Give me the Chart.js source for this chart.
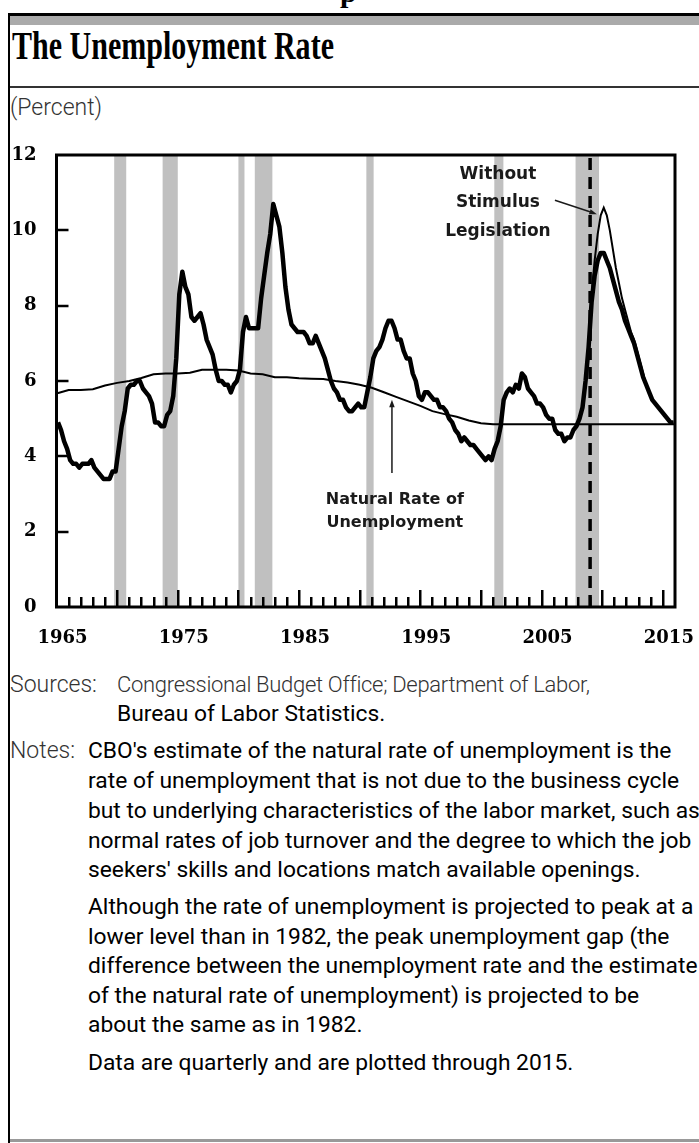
<!DOCTYPE html>
<html>
<head>
<meta charset="utf-8">
<title>The Unemployment Rate</title>
<script src="https://cdn.jsdelivr.net/npm/chart.js@4.4.1/dist/chart.umd.min.js"></script>
<style>
  html, body { margin: 0; padding: 0; background: #fff; }
  body { width: 699px; height: 1143px; position: relative; overflow: hidden; font-family: Roboto, "Liberation Sans", sans-serif; color: #000; }
  .abs { position: absolute; white-space: nowrap; }
  #cut { left: 340px; top: -23px; font: bold 30px "Liberation Serif", serif; line-height: 30px; }
  #frameL { left: 8px; top: 13px; width: 2px; height: 1130px; background: #000; }
  #frameT { left: 8px; top: 13px; width: 691px; height: 3px; background: #000; }
  #band { left: 10px; top: 16px; width: 689px; height: 9px; background: #aaa; }
  #title { left: 12px; top: 26px; font: bold 39px "Liberation Serif", serif; line-height: 39px; transform: scaleX(0.77); transform-origin: 0 0; }
  #rule { left: 10px; top: 86px; width: 689px; height: 2px; background: #333; }
  #unit { left: 10px; top: 95px; font-size: 23px; line-height: 26px; color: #333; font-weight: 300; }
  #chartBox { left: 0; top: 140px; width: 699px; height: 520px; }
  .row { font-size: 22.8px; line-height: 30px; }
  .light { color: #333; font-weight: 300; font-size: 23px; }
  .src { font-size: 22px; letter-spacing: -0.3px; }
  #bottom { left: 10px; top: 1139px; width: 689px; height: 3px; background: #999; }
</style>
</head>
<body>
<div class="abs" id="cut">p</div>
<div class="abs" id="frameL"></div>
<div class="abs" id="frameT"></div>
<div class="abs" id="band"></div>
<div class="abs" id="title">The Unemployment Rate</div>
<div class="abs" id="rule"></div>
<div class="abs" id="unit">(Percent)</div>
<div class="abs" id="chartBox"><canvas id="chart"></canvas></div>

<div class="abs row light" style="left:10px;top:670px">Sources:</div>
<div class="abs row light src" style="left:117px;top:670px">Congressional Budget Office; Department of Labor,</div>
<div class="abs row" style="left:117px;top:699px">Bureau of Labor Statistics.</div>
<div class="abs row light" style="left:10px;top:736px">Notes:</div>
<div class="abs row" style="left:88px;top:736px">CBO's estimate of the natural rate of unemployment is the</div>
<div class="abs row" style="left:88px;top:766px">rate of unemployment that is not due to the business cycle</div>
<div class="abs row" style="left:88px;top:796px">but to underlying characteristics of the labor market, such as</div>
<div class="abs row" style="left:88px;top:826px">normal rates of job turnover and the degree to which the job</div>
<div class="abs row" style="left:88px;top:855px">seekers' skills and locations match available openings.</div>
<div class="abs row" style="left:88px;top:892px">Although the rate of unemployment is projected to peak at a</div>
<div class="abs row" style="left:88px;top:922px">lower level than in 1982, the peak unemployment gap (the</div>
<div class="abs row" style="left:88px;top:951px">difference between the unemployment rate and the estimate</div>
<div class="abs row" style="left:88px;top:981px">of the natural rate of unemployment) is projected to be</div>
<div class="abs row" style="left:88px;top:1010px">about the same as in 1982.</div>
<div class="abs row" style="left:88px;top:1048px">Data are quarterly and are plotted through 2015.</div>
<div class="abs" id="bottom"></div>

<script>
"use strict";

// quarterly, 1965Q1 .. 2008Q4
const FIRST_YEAR = 1965;
const unemploymentHistory = [
  4.9, 4.7, 4.4, 4.2,   3.9, 3.8, 3.8, 3.7,   3.8, 3.8, 3.8, 3.9,   3.7, 3.6, 3.5, 3.4,
  3.4, 3.4, 3.6, 3.6,   4.2, 4.8, 5.2, 5.8,   5.9, 5.9, 6.0, 6.0,   5.8, 5.7, 5.6, 5.4,
  4.9, 4.9, 4.8, 4.8,   5.1, 5.2, 5.6, 6.6,   8.3, 8.9, 8.5, 8.3,   7.7, 7.6, 7.7, 7.8,
  7.5, 7.1, 6.9, 6.7,   6.3, 6.0, 6.0, 5.9,   5.9, 5.7, 5.9, 6.0,   6.3, 7.3, 7.7, 7.4,
  7.4, 7.4, 7.4, 8.2,   8.8, 9.4, 9.9, 10.7,  10.4, 10.1, 9.4, 8.5, 7.9, 7.5, 7.4, 7.3,
  7.3, 7.3, 7.2, 7.0,   7.0, 7.2, 7.0, 6.8,   6.6, 6.3, 6.0, 5.8,   5.7, 5.5, 5.5, 5.3,
  5.2, 5.2, 5.3, 5.4,   5.3, 5.3, 5.7, 6.1,   6.6, 6.8, 6.9, 7.1,   7.4, 7.6, 7.6, 7.4,
  7.1, 7.1, 6.8, 6.6,   6.6, 6.2, 6.0, 5.6,   5.5, 5.7, 5.7, 5.6,   5.5, 5.5, 5.3, 5.3,
  5.2, 5.0, 4.9, 4.7,   4.6, 4.4, 4.5, 4.4,   4.3, 4.3, 4.2, 4.1,   4.0, 3.9, 4.0, 3.9,
  4.2, 4.4, 4.8, 5.5,   5.7, 5.8, 5.7, 5.9,   5.8, 6.2, 6.1, 5.8,   5.7, 5.6, 5.4, 5.4,
  5.3, 5.1, 5.0, 5.0,   4.7, 4.6, 4.6, 4.4,   4.5, 4.5, 4.7, 4.8,   5.0, 5.3, 6.0, 6.9
];
// projections, 2009Q1 .. 2015Q4
const withStimulus = [
  8.1, 8.8, 9.2, 9.4,   9.4, 9.2, 9.0, 8.7,   8.4, 8.1, 7.9, 7.6,   7.4, 7.2, 7.0, 6.7,
  6.4, 6.1, 5.9, 5.7,   5.5, 5.4, 5.3, 5.2,   5.1, 5.0, 4.9, 4.9
];
const withoutStimulus = [
  8.3, 9.2, 9.9, 10.4,  10.6, 10.4, 10.0, 9.5, 9.0, 8.6, 8.2, 7.9,  7.6, 7.3, 7.1, 6.8,
  6.5, 6.2, 5.9, 5.7,   5.5, 5.4, 5.3, 5.2,   5.1, 5.0, 4.9, 4.9
];
// natural rate, start of each year 1965 .. 2016
const naturalRate = [
  5.67, 5.76, 5.76, 5.78, 5.88, 5.95, 6.0, 6.08, 6.18, 6.2, 6.2, 6.22, 6.3, 6.3, 6.3, 6.28,
  6.2, 6.18, 6.1, 6.1, 6.07, 6.06, 6.05, 6.0, 5.96, 5.9, 5.82, 5.7, 5.58, 5.46, 5.34, 5.2,
  5.12, 5.05, 4.95, 4.88, 4.85, 4.85, 4.85, 4.85, 4.85, 4.85, 4.85, 4.85, 4.85, 4.85, 4.85,
  4.85, 4.85, 4.85, 4.85, 4.85
];
const recessionStart = [1969.75, 1973.75, 1980.0, 1981.35, 1990.55, 2001.1, 2007.8];
const recessionEnd   = [1970.75, 1975.0, 1980.5, 1982.8, 1991.15, 2001.85, 2009.75];
const projectionStart = 2009.0;
const xLabelYears = [1965, 1975, 1985, 1995, 2005, 2015];
const yTickValues = [0, 2, 4, 6, 8, 10, 12];

const quarterX = (i) => FIRST_YEAR + i / 4 + 0.125;
const mainPoints = unemploymentHistory.concat(withStimulus).map((v, i) => ({ x: quarterX(i), y: v }));
const lastHist = unemploymentHistory.length - 1;
const withoutPoints = [{ x: quarterX(lastHist), y: unemploymentHistory[lastHist] }]
  .concat(withoutStimulus.map((v, i) => ({ x: quarterX(lastHist + 1 + i), y: v })));
const naturalPoints = naturalRate.map((v, i) => ({ x: FIRST_YEAR + i, y: v }));
const recessionPoints = [];
recessionStart.forEach((s, i) => {
  const e = recessionEnd[i];
  recessionPoints.push({ x: s, y: 0 }, { x: s, y: 12 }, { x: e, y: 12 }, { x: e, y: 0 });
});

const SERIF = "'DejaVu Serif', 'Liberation Serif', serif";
const SANS = "'DejaVu Sans', 'Liberation Sans', sans-serif";

const framePlugin = {
  id: "frameTicks",
  afterDatasetsDraw(c) {
    const { ctx, chartArea: a, scales } = c;
    ctx.save();
    ctx.strokeStyle = "#000";
    ctx.lineWidth = 2.5;
    for (let yr = 1966; yr <= 2015; yr++) {
      const x = Math.round(scales.x.getPixelForValue(yr)) + 0.25;
      const len = yr % 5 === 0 ? 17 : 10;
      ctx.beginPath();
      ctx.moveTo(x, a.bottom);
      ctx.lineTo(x, a.bottom - len);
      ctx.stroke();
    }
    yTickValues.slice(1, -1).forEach((v) => {
      const y = Math.round(scales.y.getPixelForValue(v));
      ctx.beginPath();
      ctx.moveTo(a.left, y);
      ctx.lineTo(a.left + 12, y);
      ctx.stroke();
    });
    ctx.lineWidth = 3;
    ctx.strokeRect(a.left, a.top, a.right - a.left, a.bottom - a.top);
    ctx.restore();
  },
};

function arrow(ctx, x1, y1, x2, y2) {
  const ang = Math.atan2(y2 - y1, x2 - x1);
  ctx.beginPath();
  ctx.moveTo(x1, y1);
  ctx.lineTo(x2 - 5 * Math.cos(ang), y2 - 5 * Math.sin(ang));
  ctx.stroke();
  ctx.beginPath();
  ctx.moveTo(x2, y2);
  ctx.lineTo(x2 - 8 * Math.cos(ang - 0.35), y2 - 8 * Math.sin(ang - 0.35));
  ctx.lineTo(x2 - 8 * Math.cos(ang + 0.35), y2 - 8 * Math.sin(ang + 0.35));
  ctx.closePath();
  ctx.fill();
}

const labelPlugin = {
  id: "labels",
  afterDatasetsDraw(c) {
    const { ctx, scales } = c;
    const px = (v) => scales.x.getPixelForValue(v);
    const py = (v) => scales.y.getPixelForValue(v);
    ctx.save();
    ctx.fillStyle = "#1a1a1a";
    ctx.strokeStyle = "#1a1a1a";
    ctx.textAlign = "center";
    ctx.textBaseline = "middle";
    ctx.font = "bold 17px " + SANS;
    ctx.fillText("Without", px(2001.4), py(11.47));
    ctx.fillText("Stimulus", px(2001.4), py(10.73));
    ctx.fillText("Legislation", px(2001.4), py(9.98));
    ctx.font = "bold 16px " + SANS;
    ctx.fillText("Natural Rate of", px(1992.9), py(2.84));
    ctx.fillText("Unemployment", px(1992.9), py(2.24));
    ctx.lineWidth = 1.5;
    arrow(ctx, px(2006.1), py(10.8), px(2009.56), py(10.43));
    arrow(ctx, px(1992.66), py(3.56), px(1992.66), py(5.5));
    ctx.restore();
  },
};

new Chart(document.getElementById("chart"), {
  type: "line",
  data: {
    datasets: [
      { label: "Unemployment Rate", data: mainPoints, borderColor: "#000", borderWidth: 4.5, pointRadius: 0, borderJoinStyle: "round", order: 0 },
      { label: "Projection", data: [{ x: projectionStart, y: 0 }, { x: projectionStart, y: 12 }], borderColor: "#000", borderWidth: 3.5, borderDash: [12, 7], pointRadius: 0, order: 1 },
      { label: "Without Stimulus", data: withoutPoints, borderColor: "#000", borderWidth: 2, pointRadius: 0, order: 2 },
      { label: "Natural Rate", data: naturalPoints, borderColor: "#000", borderWidth: 2, pointRadius: 0, order: 3 },
      { label: "Recessions", data: recessionPoints, borderWidth: 0, borderColor: "rgba(0,0,0,0)", backgroundColor: "#c0c0c0", fill: "origin", pointRadius: 0, order: 10 },
    ],
  },
  options: {
    responsive: true,
    maintainAspectRatio: false,
    animation: false,
    events: [],
    layout: { padding: { top: 15, right: 24, left: 0, bottom: 0 } },
    scales: {
      x: {
        type: "linear",
        min: 1965,
        max: 2016,
        afterBuildTicks: (s) => { s.ticks = xLabelYears.map((v) => ({ value: v })); },
        afterFit: (s) => { s.height = 53; s.paddingLeft = 0; s.paddingRight = 0; },
        ticks: { callback: (v) => String(v), labelOffset: 6, padding: 13, color: "#000", font: { family: SERIF, weight: "bold", size: 18 }, maxRotation: 0, autoSkip: false },
        grid: { display: false },
        border: { display: false },
      },
      y: {
        min: 0,
        max: 12,
        afterBuildTicks: (s) => { s.ticks = yTickValues.map((v) => ({ value: v })); },
        afterFit: (s) => { s.width = 56.5; s.paddingTop = 0; s.paddingBottom = 0; },
        ticks: { padding: 12, color: "#000", font: { family: SERIF, weight: "bold", size: 18 } },
        grid: { display: false },
        border: { display: false },
      },
    },
    plugins: { legend: { display: false }, tooltip: { enabled: false } },
  },
  plugins: [framePlugin, labelPlugin],
});
</script>
</body>
</html>
